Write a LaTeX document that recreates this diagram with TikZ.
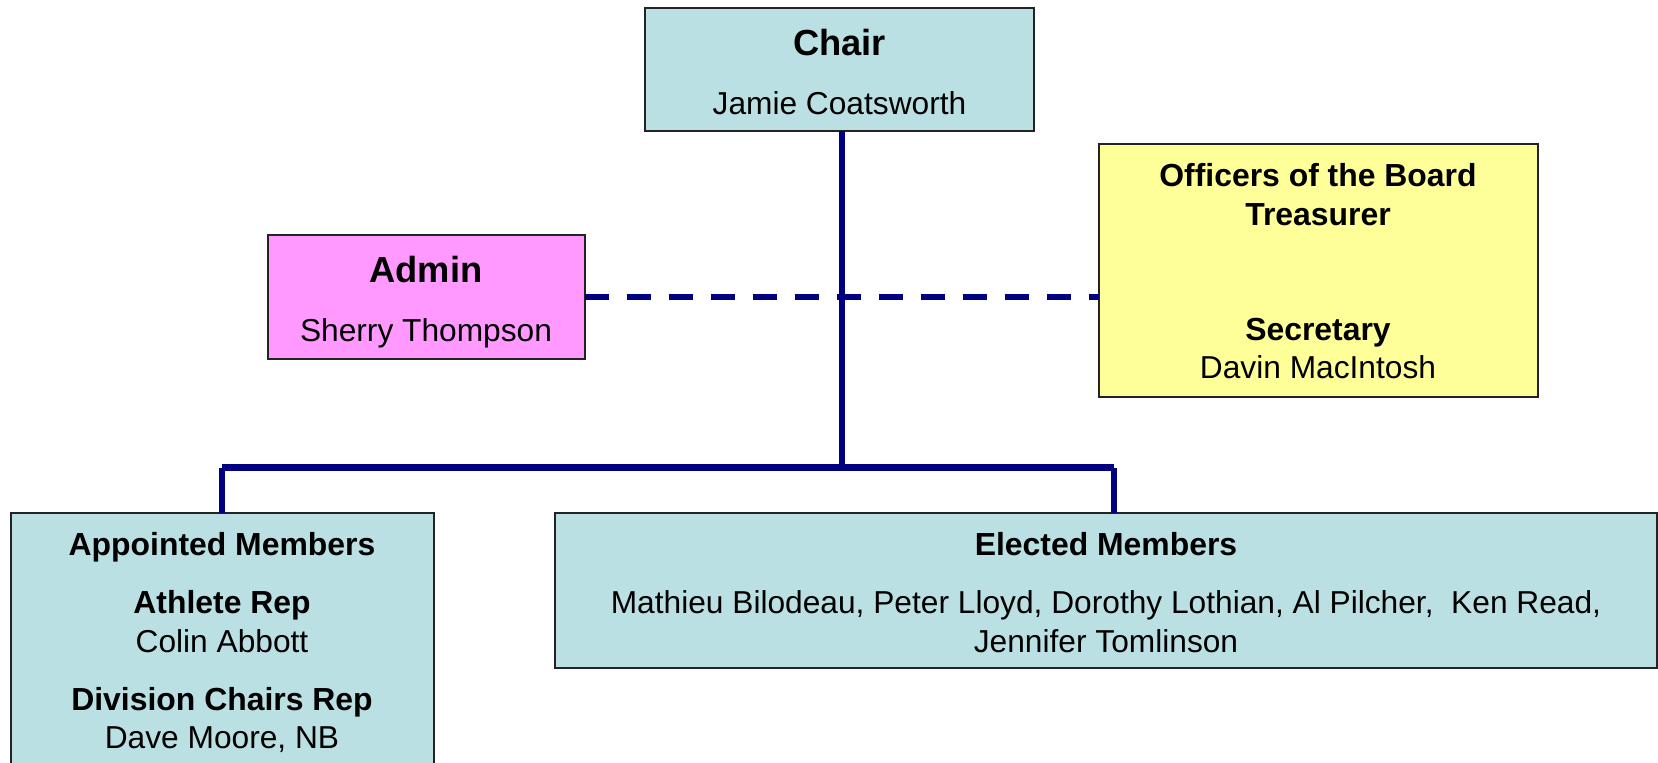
\documentclass[tikz,border=0pt]{standalone}
\usepackage{fontspec}
\setmainfont{Liberation Sans}
\definecolor{boxblue}{RGB}{187,224,227}
\definecolor{boxpink}{RGB}{255,153,255}
\definecolor{boxyellow}{RGB}{255,255,153}
\definecolor{navyline}{RGB}{0,0,128}
\definecolor{edgegray}{RGB}{35,35,35}
\begin{document}
\begin{tikzpicture}[x=1pt,y=-1pt,
  box/.style={draw=edgegray, line width=2pt, anchor=north west, inner sep=0pt, outer sep=0pt},
  txt/.style={anchor=base, inner sep=0pt, font=\fontsize{31.7}{38}\selectfont},
  hd/.style={anchor=base, inner sep=0pt, font=\fontsize{31.9}{38}\selectfont\bfseries},
  bighd/.style={anchor=base, inner sep=0pt, font=\fontsize{36.3}{42}\selectfont\bfseries},
  conn/.style={draw=navyline, line width=6pt},
  busline/.style={draw=navyline, line width=7pt},
  dashconn/.style={draw=navyline, line width=6pt, dash pattern=on 24pt off 18pt},
]
\useasboundingbox (0,0) rectangle (1658,763);
\clip (0,0) rectangle (1658,763);

% boxes
\node[box, fill=boxblue, minimum width=389pt, minimum height=123pt] (chair) at (645,8) {};
\node[box, fill=boxpink, minimum width=317pt, minimum height=123.5pt] (admin) at (267.5,235) {};
\node[box, fill=boxyellow, minimum width=439pt, minimum height=252.5pt] (officers) at (1098.5,144) {};
\node[box, fill=boxblue, minimum width=423pt, minimum height=270pt] (appointed) at (10.5,513) {};
\node[box, fill=boxblue, minimum width=1101.5pt, minimum height=155pt] (elected) at (555,513) {};

% connectors
\coordinate (hub) at (842,464);
\coordinate (busL) at (222,467.5);
\coordinate (busR) at (1114,467.5);
\draw[conn] (chair.south -| hub) -- (hub);
\draw[busline] (busL) -- (busR);
\draw[conn] ([yshift=-0.5pt]busL) -- (busL |- appointed.north);
\draw[conn] ([yshift=-0.5pt]busR) -- (busR |- elected.north);
\draw[dashconn] (admin.east) -- (admin.east -| officers.west);

% texts
\node[bighd] (chairT) at (839.5,55) {Chair};
\node[txt] (chairN) at (839.5,114) {Jamie Coatsworth};

\node[bighd] (adminT) at (426,282) {Admin};
\node[txt] (adminN) at (426,341.5) {Sherry Thompson};

\node[hd] (offT) at (1318,186.3) {Officers of the Board};
\node[hd] (treasT) at (1318,225.3) {Treasurer};
\node[hd] (secT) at (1318,340.3) {Secretary};
\node[txt] (secN) at (1318,378.7) {Davin MacIntosh};

\node[hd] (appT) at (222,555) {Appointed Members};
\node[hd] (athT) at (222,613.7) {Athlete Rep};
\node[txt] (athN) at (222,652) {Colin Abbott};
\node[hd] (divT) at (222,710) {Division Chairs Rep};
\node[txt] (divN) at (222,748.7) {Dave Moore, NB};

\node[hd] (elT) at (1106,555) {Elected Members};
\node[txt] (elN1) at (1106,613.7) {Mathieu Bilodeau, Peter Lloyd, Dorothy Lothian, Al Pilcher,\ \ Ken Read,};
\node[txt] (elN2) at (1106,652) {Jennifer Tomlinson};
\end{tikzpicture}
\end{document}
